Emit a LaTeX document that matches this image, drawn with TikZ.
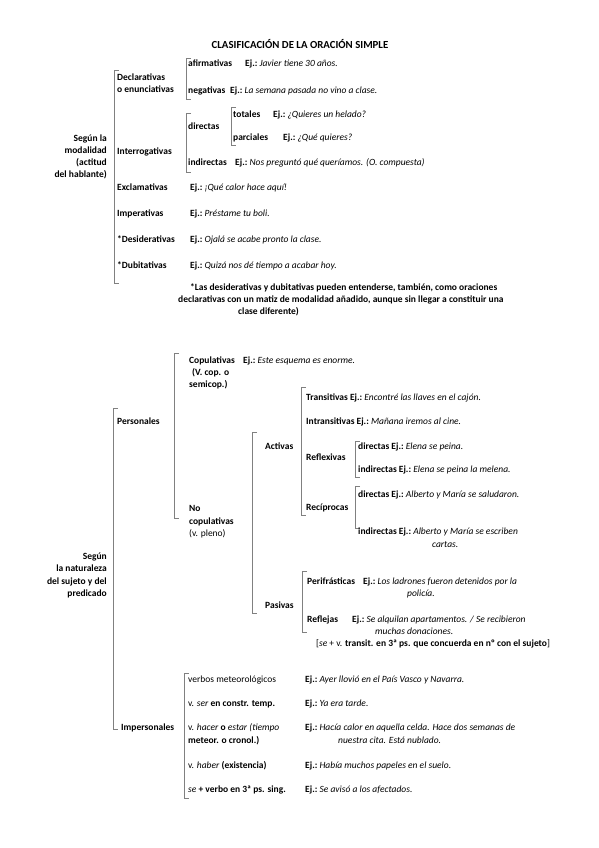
\documentclass[tikz,border=0pt]{standalone}
\usepackage{fontspec}
\setmainfont{Carlito}
\newcommand{\EJ}{\textbf{Ej.:}\ }
\tikzset{
  lbl/.style={anchor=west, inner sep=0pt, text height=6.5pt, text depth=2pt, font=\fontsize{9.5}{11.5}\selectfont},
  rlbl/.style={lbl, anchor=east},
  brk/.style={draw=black!50, line width=0.8pt}
}
\newcommand{\Brk}[3]{\draw[brk] (#1+5,#2) -- (#1,#2) -- (#1,#3) -- (#1+5,#3);}
\begin{document}
\begin{tikzpicture}[x=1pt,y=-1pt]
\useasboundingbox (0,0) rectangle (599,848);
\fill[white] (0,0) rectangle (599,848);
% title
\node[inner sep=0pt, font=\fontsize{10.8}{13}\selectfont\bfseries] (title) at (300,44) {CLASIFICACIÓN DE LA ORACIÓN SIMPLE};

% ---------- Section 1 ----------
\Brk{114}{70}{283}
\node[rlbl] (m1) at (107,139) {\textbf{Según la}};
\node[rlbl] (m2) at (107,151) {\textbf{modalidad}};
\node[rlbl] (m3) at (107,163) {\textbf{(actitud}};
\node[rlbl] (m4) at (107,175) {\textbf{del hablante)}};

\node[lbl] (decl1) at (117,78) {\textbf{Declarativas}};
\node[lbl] (decl2) at (117,90) {\textbf{o enunciativas}};
\Brk{186}{58}{99}
\node[lbl] (afir) at (188,64) {\textbf{afirmativas}};
\node[lbl] (afirej) at (245,64) {\EJ\textit{Javier tiene 30 años.}};
\node[lbl] (neg) at (188,91) {\textbf{negativas}};
\node[lbl] (negej) at (230,91) {\EJ\textit{La semana pasada no vino a clase.}};

\node[lbl] (interr) at (117,152) {\textbf{Interrogativas}};
\Brk{186}{113}{172}
\node[lbl] (dir) at (188,127) {\textbf{directas}};
\Brk{231}{107}{145}
\node[lbl] (tot) at (233,115) {\textbf{totales}};
\node[lbl] (totej) at (273,115) {\EJ\textit{¿Quieres un helado?}};
\node[lbl] (parc) at (233,138) {\textbf{parciales}};
\node[lbl] (parcej) at (283,138) {\EJ\textit{¿Qué quieres?}};
\node[lbl] (indir) at (188,163) {\textbf{indirectas}};
\node[lbl] (indirej) at (235,163) {\EJ\textit{Nos preguntó qué queríamos. (O. compuesta)}};

\node[lbl] (excl) at (117,188) {\textbf{Exclamativas}};
\node[lbl] (exclej) at (190,188) {\EJ\textit{¡Qué calor hace aquí!}};
\node[lbl] (imp) at (117,214) {\textbf{Imperativas}};
\node[lbl] (impej) at (190,214) {\EJ\textit{Préstame tu boli.}};
\node[lbl] (des) at (117,240) {\textbf{*Desiderativas}};
\node[lbl] (desej) at (190,240) {\EJ\textit{Ojalá se acabe pronto la clase.}};
\node[lbl] (dub) at (117,266) {\textbf{*Dubitativas}};
\node[lbl] (dubej) at (190,266) {\EJ\textit{Quizá nos dé tiempo a acabar hoy.}};

\node[lbl] (fn1) at (190,288) {\textbf{*Las desiderativas y dubitativas pueden entenderse, también, como oraciones}};
\node[lbl] (fn2) at (178,300) {\textbf{declarativas con un matiz de modalidad añadido, aunque sin llegar a constituir una}};
\node[lbl] (fn3) at (238,312) {\textbf{clase diferente)}};

% ---------- Section 2 ----------
\Brk{113}{408}{729}
\node[rlbl] (n1) at (107,557) {\textbf{Según}};
\node[rlbl] (n2) at (107,569) {\textbf{la naturaleza}};
\node[rlbl] (n3) at (107,582) {\textbf{del sujeto y del}};
\node[rlbl] (n4) at (107,594) {\textbf{predicado}};

\node[lbl] (pers) at (117,422) {\textbf{Personales}};
\Brk{174}{353}{518}
\node[lbl] (cop1) at (189,361) {\textbf{Copulativas}};
\node[lbl] (cop2) at (192,373) {\textbf{(V. cop. o}};
\node[lbl] (cop3) at (189,385) {\textbf{semicop.)}};
\node[lbl] (copej) at (243,361) {\EJ\textit{Este esquema es enorme.}};

\node[lbl] (nc1) at (189,509) {\textbf{No}};
\node[lbl] (nc2) at (189,522) {\textbf{copulativas}};
\node[lbl] (nc3) at (189,534) {(v. pleno)};

\Brk{252}{432}{613}
\node[lbl] (act) at (265,447) {\textbf{Activas}};
\node[lbl] (pas) at (265,606) {\textbf{Pasivas}};

\Brk{301}{387}{515}
\node[lbl] (trans) at (306,398) {\textbf{Transitivas} \EJ\textit{Encontré las llaves en el cajón.}};
\node[lbl] (intr) at (306,422) {\textbf{Intransitivas} \EJ\textit{Mañana iremos al cine.}};
\node[lbl] (refl) at (306,458) {\textbf{Reflexivas}};
\Brk{355}{441}{477}
\node[lbl] (rdir) at (358,447) {\textbf{directas} \EJ\textit{Elena se peina.}};
\node[lbl] (rind) at (358,470) {\textbf{indirectas} \EJ\textit{Elena se peina la melena.}};
\node[lbl] (rec) at (306,508) {\textbf{Recíprocas}};
\Brk{355}{486}{528}
\node[lbl] (cdir) at (358,495) {\textbf{directas} \EJ\textit{Alberto y María se saludaron.}};
\node[lbl] (cind) at (358,532) {\textbf{indirectas} \EJ\textit{Alberto y María se escriben}};
\node[lbl] (cind2) at (432,545) {\textit{cartas.}};

\Brk{302}{571}{632}
\node[lbl] (peri) at (307,582) {\textbf{Perifrásticas}};
\node[lbl] (periej) at (363,582) {\EJ\textit{Los ladrones fueron detenidos por la}};
\node[lbl] (periej2) at (407,594) {\textit{policía.}};
\node[lbl] (refj) at (307,620) {\textbf{Reflejas}};
\node[lbl] (refjej) at (352,620) {\EJ\textit{Se alquilan apartamentos. / Se recibieron}};
\node[lbl] (refjej2) at (375,632) {\textit{muchas donaciones.}};
\node[lbl] (refjnote) at (316,644) {[\textit{se} + v. \textbf{transit. en 3ª ps. que concuerda en nº con el sujeto}]};

\node[lbl] (impers) at (121,728) {\textbf{Impersonales}};
\Brk{184}{673}{798}
\node[lbl] (i1) at (188,680) {verbos meteorológicos};
\node[lbl] (i1ej) at (305,680) {\EJ\textit{Ayer llovió en el País Vasco y Navarra.}};
\node[lbl] (i2) at (188,704) {v. \textit{ser} \textbf{en constr. temp.}};
\node[lbl] (i2ej) at (305,704) {\EJ\textit{Ya era tarde.}};
\node[lbl] (i3) at (188,728) {v. \textit{hacer} \textbf{o} \textit{estar (tiempo}};
\node[lbl] (i3b) at (188,741) {\textbf{meteor. o cronol.)}};
\node[lbl] (i3ej) at (305,728) {\EJ\textit{Hacía calor en aquella celda. Hace dos semanas de}};
\node[lbl] (i3ej2) at (338,741) {\textit{nuestra cita. Está nublado.}};
\node[lbl] (i4) at (188,766) {v. \textit{haber} \textbf{(existencia)}};
\node[lbl] (i4ej) at (305,766) {\EJ\textit{Había muchos papeles en el suelo.}};
\node[lbl] (i5) at (188,790) {\textit{se} \textbf{+ verbo en 3ª ps. sing.}};
\node[lbl] (i5ej) at (305,790) {\EJ\textit{Se avisó a los afectados.}};
\end{tikzpicture}
\end{document}
